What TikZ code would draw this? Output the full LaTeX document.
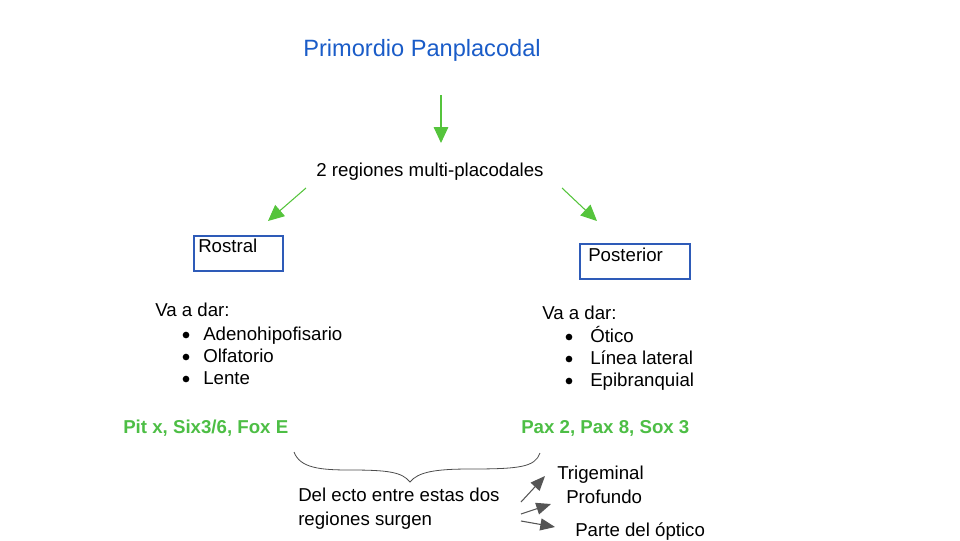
\documentclass[tikz,border=0pt]{standalone}
\usepackage{fontspec}
\setmainfont{Liberation Sans}
\usetikzlibrary{arrows.meta}
\definecolor{titleblue}{HTML}{1A5CC8}
\definecolor{arrgreen}{HTML}{55C43C}
\definecolor{txtgreen}{HTML}{4DBE45}
\definecolor{boxblue}{HTML}{2E5BB8}
\definecolor{arrgray}{HTML}{555555}
\tikzset{
  txt/.style={inner sep=0pt, anchor=base west, font=\fontsize{14}{16}\selectfont},
  gtxt/.style={txt, text=txtgreen, font=\fontsize{14}{16}\selectfont\bfseries},
  garrow/.style={draw=arrgreen, line width=0.8pt, -{Triangle[length=12pt,width=11pt]}, arrgreen},
  grayarrow/.style={draw=arrgray, line width=0.8pt, -{Triangle[length=11pt,width=9pt]}, arrgray},
  regbox/.style={draw=boxblue, line width=0.8pt},
  bul/.style={circle, fill=black, inner sep=0pt, minimum size=5pt},
}
\begin{document}
\begin{tikzpicture}[x=0.75pt, y=-0.75pt]
\useasboundingbox (0,0) rectangle (960,540);
% title
\node[inner sep=0pt, anchor=base, text=titleblue, font=\fontsize{17.7}{20}\selectfont] (title) at (422,56) {Primordio Panplacodal};
\coordinate (a1s) at (441,95);
\coordinate (a1e) at (441,143);
\draw[garrow] (a1s) -- (a1e);
\node[inner sep=0pt, anchor=base, font=\fontsize{14}{16}\selectfont] (regs) at (430,176) {2 regiones multi-placodales};
\coordinate (a2s) at (306,188);
\coordinate (a2e) at (268,221);
\coordinate (a3s) at (562,188);
\coordinate (a3e) at (597,221);
\draw[garrow] (a2s) -- (a2e);
\draw[garrow] (a3s) -- (a3e);
% boxes
\draw[regbox] (194,236) rectangle (283,271);
\node[txt] (rostral) at (198,252) {Rostral};
\draw[regbox] (580,244) rectangle (690,279);
\node[txt] (posterior) at (588,261) {Posterior};
% left list
\node[txt] (vl) at (155,316) {Va a dar:};
\node[bul] (bl1) at (186,335) {};
\node[txt] (l1) at (203,340) {Adenohipofisario};
\node[bul] (bl2) at (186,357) {};
\node[txt] (l2) at (203,362) {Olfatorio};
\node[bul] (bl3) at (186,379) {};
\node[txt] (l3) at (203,384) {Lente};
% right list
\node[txt] (vr) at (542,319) {Va a dar:};
\node[bul] (br1) at (569,337) {};
\node[txt] (r1) at (590,342) {Ótico};
\node[bul] (br2) at (569,359) {};
\node[txt] (r2) at (590,364) {Línea lateral};
\node[bul] (br3) at (569,381) {};
\node[txt] (r3) at (590,386) {Epibranquial};
% genes
\node[gtxt] (gl) at (123,433) {Pit x, Six3/6, Fox E};
\node[gtxt] (gr) at (521,433) {Pax 2, Pax 8, Sox 3};
% brace
\draw[line width=0.6pt, black!70] (294,452) .. controls (300,468) and (320,470) .. (350,470)
  .. controls (388,470) and (402,472) .. (410,482)
  .. controls (418,472) and (435,469) .. (470,469)
  .. controls (520,469) and (535,467) .. (540,453);
\node[txt] (d1) at (298,501) {Del ecto entre estas dos};
\node[txt] (d2) at (298,525) {regiones surgen};
% outcomes
\node[txt] (trig) at (557,479) {Trigeminal};
\node[txt] (prof) at (566,503) {Profundo};
\node[txt] (opt) at (575,536) {Parte del óptico};
\coordinate (g1s) at (521,502);
\coordinate (g1e) at (545,476);
\coordinate (g2s) at (521,514);
\coordinate (g2e) at (551,504);
\coordinate (g3s) at (521,521);
\coordinate (g3e) at (555,527);
\draw[grayarrow] (g1s) -- (g1e);
\draw[grayarrow] (g2s) -- (g2e);
\draw[grayarrow] (g3s) -- (g3e);
\end{tikzpicture}
\end{document}
